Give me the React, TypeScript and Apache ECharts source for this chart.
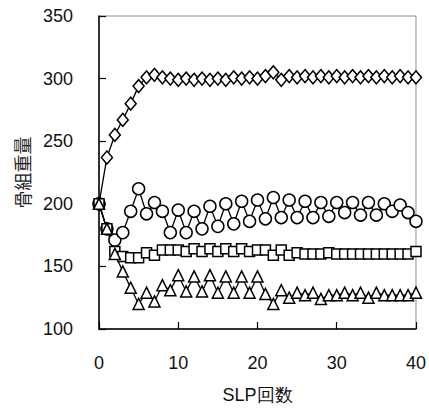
import React, { useEffect, useRef } from "react";
import * as echarts from "echarts";

const xValues = Array.from({ length: 41 }, (_, i) => i);
const diamondValues = [200, 237, 255, 267, 280, 294, 301, 303, 301, 300, 299, 300, 299, 300, 299, 300, 299, 301, 300, 301, 300, 302, 305, 299, 302, 301, 302, 301, 302, 301, 302, 301, 302, 301, 302, 301, 302, 301, 302, 301, 301];
const circleValues = [200, 180, 171, 177, 194, 212, 192, 201, 194, 177, 195, 177, 194, 180, 198, 182, 200, 184, 202, 186, 203, 188, 205, 189, 203, 189, 202, 189, 201, 190, 201, 193, 201, 191, 201, 191, 200, 194, 199, 193, 186];
const squareValues = [200, 180, 162, 158, 157, 157, 161, 159, 163, 163, 163, 162, 164, 162, 164, 162, 164, 162, 164, 162, 163, 163, 159, 163, 159, 161, 160, 160, 160, 161, 160, 160, 160, 160, 160, 160, 160, 160, 160, 160, 162];
const triangleValues = [200, 180, 160, 146, 133, 120, 129, 122, 135, 131, 143, 130, 142, 130, 143, 129, 142, 129, 142, 129, 142, 128, 120, 131, 125, 129, 127, 129, 124, 127, 127, 129, 127, 129, 125, 129, 127, 127, 127, 127, 129];
const yTicks = [100, 150, 200, 250, 300, 350];
const xTicks = [0, 10, 20, 30, 40];
const xAxisName = "SLP回数";
const yAxisName = "骨組重量";

const FONT = "'Liberation Sans', Arial, sans-serif";

export default function App() {
  const ref = useRef<HTMLDivElement>(null);
  useEffect(() => {
    if (!ref.current) return;
    const chart = echarts.init(ref.current, null, { renderer: "svg" });
    const mk = (name: string, values: number[], symbol: string, size: number | number[]) => ({
      name,
      type: "line",
      data: values.map((v, i) => [xValues[i], v]),
      symbol,
      symbolSize: size,
      showAllSymbol: true,
      lineStyle: { color: "#000", width: 1.3 },
      itemStyle: { color: "#fff", borderColor: "#000", borderWidth: 1.5 },
    });
    chart.setOption({
      animation: false,
      backgroundColor: "#fff",
      grid: {
        left: 99,
        top: 16,
        width: 320,
        height: 313,
        show: true,
        borderColor: "#909090",
        borderWidth: 1,
        backgroundColor: "transparent",
      },
      xAxis: {
        type: "value",
        min: xTicks[0],
        max: xTicks[xTicks.length - 1],
        interval: 10,
        name: xAxisName,
        nameLocation: "middle",
        nameGap: 57,
        nameTextStyle: { fontSize: 18, color: "#111", fontFamily: FONT },
        axisLine: { show: true, lineStyle: { color: "#000", width: 1.5 } },
        axisTick: { show: true, inside: true, length: 7, lineStyle: { color: "#000", width: 1.2 } },
        axisLabel: { fontSize: 18, color: "#111", fontFamily: FONT, margin: 25 },
        splitLine: { show: false },
      },
      yAxis: {
        type: "value",
        min: yTicks[0],
        max: yTicks[yTicks.length - 1],
        interval: 50,
        name: yAxisName,
        nameLocation: "middle",
        nameGap: 68,
        nameRotate: 90,
        nameTextStyle: { fontSize: 18, color: "#222", fontFamily: "'Noto Sans CJK JP', sans-serif" },
        axisLine: { show: true, lineStyle: { color: "#000", width: 1.5 } },
        axisTick: { show: true, inside: true, length: 7, lineStyle: { color: "#000", width: 1.2 } },
        axisLabel: { fontSize: 18, color: "#111", fontFamily: FONT, margin: 26 },
        splitLine: { show: false },
      },
      series: [
        mk("diamond", diamondValues, "diamond", [11, 13]),
        mk("circle", circleValues, "circle", 12),
        mk("square", squareValues, "rect", 10),
        mk("triangle", triangleValues, "triangle", 11),
      ],
    });
    return () => chart.dispose();
  }, []);
  return (
    <div
      ref={ref}
      style={{ position: "fixed", left: 0, top: 0, width: 429, height: 413, background: "#fff" }}
    />
  );
}
